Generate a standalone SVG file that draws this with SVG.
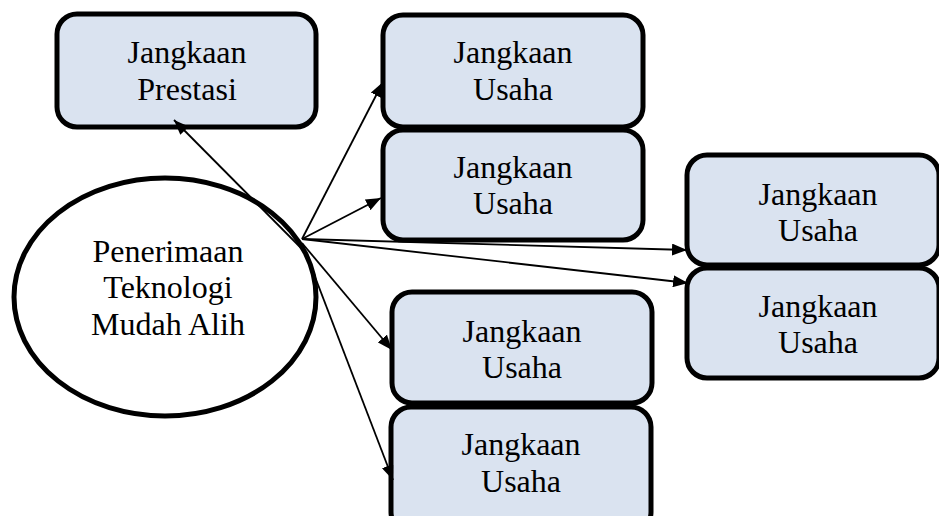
<svg xmlns="http://www.w3.org/2000/svg" width="939" height="516" viewBox="0 0 939 516">
<style>
.box{fill:#dae3f0;stroke:#000;stroke-width:5}
.ell{fill:#fff;stroke:#000;stroke-width:5}
text{font-family:'Liberation Serif','DejaVu Serif',serif;font-size:32px;fill:#000;text-anchor:middle}
.c{stroke:#000;stroke-width:1.8;fill:none;marker-end:url(#ah)}
</style>
<defs>
<marker id="ah" markerUnits="userSpaceOnUse" markerWidth="15" markerHeight="12" refX="15" refY="6" orient="auto">
<path d="M0,0 L15,6 L0,12 z" fill="#000"/>
</marker>
</defs>
<rect width="939" height="516" fill="#fff"/>
<g id="n0">
<ellipse class="ell" cx="165" cy="297" rx="151" ry="119"/>
<text x="168" y="262">Penerimaan</text>
<text x="168" y="298">Teknologi</text>
<text x="168" y="335">Mudah Alih</text>
</g>
<g id="n1">
<rect class="box" x="57" y="14" width="259" height="113" rx="20"/>
<text x="187" y="63">Jangkaan</text>
<text x="187" y="100">Prestasi</text>
</g>
<g id="n2">
<rect class="box" x="383" y="15" width="260" height="112" rx="20"/>
<text x="513" y="63">Jangkaan</text>
<text x="513" y="100">Usaha</text>
</g>
<g id="n3">
<rect class="box" x="383" y="130" width="260" height="110" rx="20"/>
<text x="513" y="178">Jangkaan</text>
<text x="513" y="214">Usaha</text>
</g>
<g id="n4">
<rect class="box" x="687" y="155" width="252" height="110" rx="20"/>
<text x="818" y="205">Jangkaan</text>
<text x="818" y="241">Usaha</text>
</g>
<g id="n5">
<rect class="box" x="687" y="268" width="252" height="110" rx="20"/>
<text x="818" y="317">Jangkaan</text>
<text x="818" y="353">Usaha</text>
</g>
<g id="n6">
<rect class="box" x="392" y="292" width="260" height="111" rx="20"/>
<text x="522" y="342">Jangkaan</text>
<text x="522" y="378">Usaha</text>
</g>
<g id="n7">
<rect class="box" x="391" y="407" width="260" height="125" rx="20"/>
<text x="521" y="455">Jangkaan</text>
<text x="521" y="492">Usaha</text>
</g>
<g id="connectors">
<line class="c" x1="303" y1="250" x2="174" y2="120"/>
<line class="c" x1="302" y1="239" x2="383" y2="82"/>
<line class="c" x1="302" y1="239" x2="381" y2="198"/>
<line class="c" x1="302" y1="239" x2="687" y2="250"/>
<line class="c" x1="302" y1="239" x2="688" y2="283"/>
<line class="c" x1="302" y1="243" x2="392" y2="350"/>
<line class="c" x1="302" y1="243" x2="393" y2="480"/>
</g>
</svg>
